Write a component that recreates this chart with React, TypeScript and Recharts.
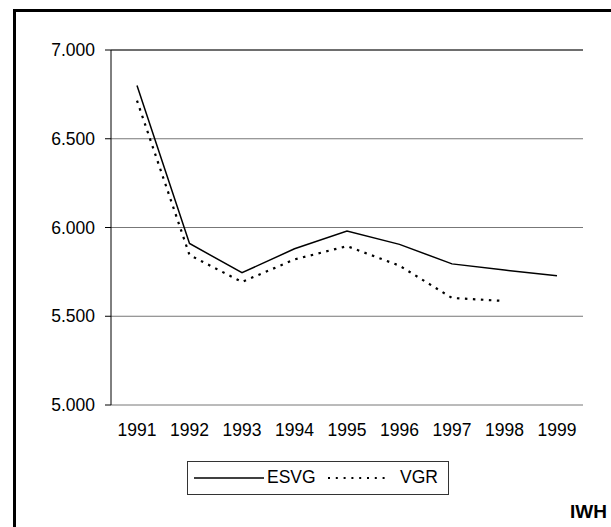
import React from "react";
import { LineChart, Line, XAxis, YAxis, CartesianGrid, ReferenceLine } from "recharts";

const years = ["1991", "1992", "1993", "1994", "1995", "1996", "1997", "1998", "1999"];
const esvg = [6800, 5910, 5745, 5880, 5980, 5905, 5795, 5760, 5728];
const vgr: (number | null)[] = [6715, 5845, 5693, 5820, 5895, 5785, 5603, 5586, null];
const yTicks = [5000, 5500, 6000, 6500, 7000];
const edgeTicks = [0, 1, 2, 3, 4, 5, 6, 7, 8, 9];

const data = years.map((y, i) => ({ year: y, ESVG: esvg[i], VGR: vgr[i] }));

// 7000 -> "7.000"
function fmtDe(v: number) {
  return String(Math.round(v)).replace(/\B(?=(\d{3})+(?!\d))/g, ".");
}

const font = "'Liberation Sans', Arial, sans-serif";
const fs = 17.5;

export default function App() {
  return (
    <div
      style={{
        position: "fixed",
        left: 0,
        top: 0,
        width: 611,
        height: 527,
        overflow: "hidden",
        background: "#fff",
        fontFamily: font,
      }}
    >
      {/* outer frame, runs off the picture to the right and bottom */}
      <div
        style={{
          position: "absolute",
          left: 13,
          top: 9,
          width: 700,
          height: 600,
          border: "3px solid #000",
        }}
      />
      <div style={{ position: "absolute", left: 0, top: 0 }}>
        <LineChart width={611} height={527} data={data} margin={{ top: 50, right: 28, left: 0, bottom: 92 }}>
          <CartesianGrid xAxisId="cat" vertical={false} stroke="#777" />
          <XAxis
            xAxisId="edge"
            type="number"
            domain={[0, 9]}
            ticks={edgeTicks}
            height={0}
            tickSize={6}
            stroke="#000"
            tick={() => <g />}
          />
          <XAxis
            xAxisId="cat"
            dataKey="year"
            padding={{ left: 26, right: 26 }}
            axisLine={false}
            tickLine={false}
            height={30}
            tickMargin={13}
            tick={{ fill: "#000", fontSize: fs }}
          />
          <YAxis
            domain={[5000, 7000]}
            ticks={yTicks}
            width={111}
            tickSize={6}
            tickMargin={10}
            stroke="#000"
            tickFormatter={fmtDe}
            tick={{ fill: "#000", fontSize: fs }}
          />
          <ReferenceLine y={7000} xAxisId="cat" stroke="#222" />
          <ReferenceLine x={9} xAxisId="edge" stroke="#666" />
          <Line
            xAxisId="cat"
            dataKey="ESVG"
            stroke="#000"
            strokeWidth={1.5}
            dot={false}
            isAnimationActive={false}
          />
          <Line
            xAxisId="cat"
            dataKey="VGR"
            stroke="#000"
            strokeWidth={2.2}
            strokeDasharray="2.5 5.5"
            dot={false}
            isAnimationActive={false}
          />
        </LineChart>
      </div>
      {/* legend */}
      <div
        style={{
          position: "absolute",
          left: 187,
          top: 461,
          width: 262,
          height: 34,
          boxSizing: "border-box",
          border: "1px solid #333",
          fontSize: fs,
        }}
      >
        <svg width={70} height={10} style={{ position: "absolute", left: 6, top: 11 }}>
          <line x1={0} y1={5} x2={70} y2={5} stroke="#000" strokeWidth={1.5} />
        </svg>
        <span style={{ position: "absolute", left: 79, top: 5, lineHeight: "20px" }}>ESVG</span>
        <svg width={60} height={10} style={{ position: "absolute", left: 140, top: 11 }}>
          <line x1={0} y1={5} x2={60} y2={5} stroke="#000" strokeWidth={2} strokeDasharray="2 5.8" />
        </svg>
        <span style={{ position: "absolute", left: 212, top: 5, lineHeight: "20px" }}>VGR</span>
      </div>
      <div
        style={{
          position: "absolute",
          right: 4,
          top: 501,
          fontSize: 19,
          lineHeight: "22px",
          fontWeight: "bold",
        }}
      >
        IWH
      </div>
    </div>
  );
}
